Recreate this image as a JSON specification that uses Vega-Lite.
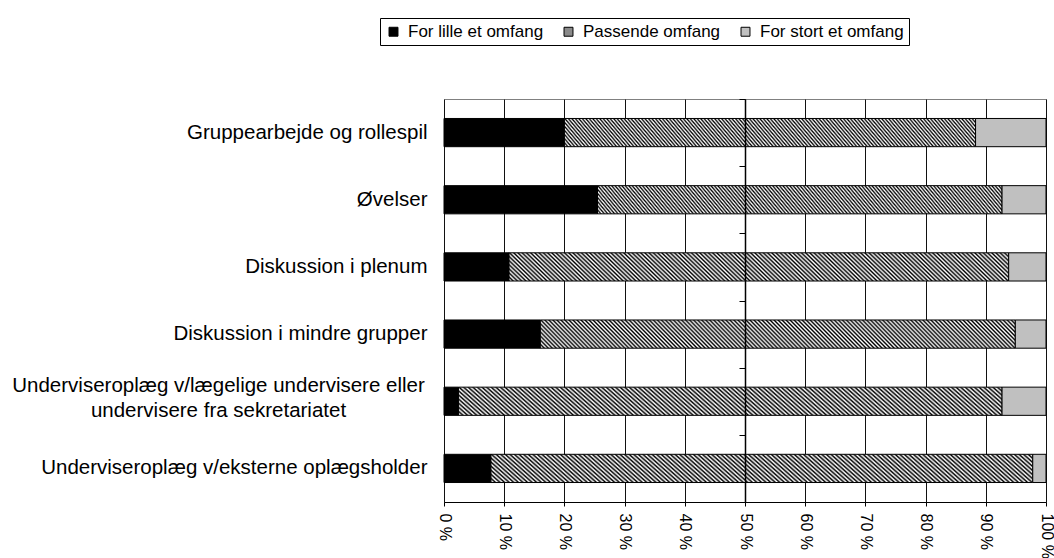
{
  "$schema": "https://vega.github.io/schema/vega-lite/v6.json",
  "autosize": {"type": "none"},
  "width": 602,
  "height": 403,
  "padding": {"left": 444, "top": 99, "right": 8, "bottom": 56},
  "background": "white",
  "config": {
    "font": "Liberation Sans",
    "view": {"stroke": "#808080", "strokeWidth": 1}
  },
  "data": {
    "values": [
      {"cat": "Gruppearbejde og rollespil", "series": "For lille et omfang", "idx": 1, "val": 20.0},
      {"cat": "Gruppearbejde og rollespil", "series": "Passende omfang", "idx": 2, "val": 68.3},
      {"cat": "Gruppearbejde og rollespil", "series": "For stort et omfang", "idx": 3, "val": 11.7},
      {"cat": "Øvelser", "series": "For lille et omfang", "idx": 1, "val": 25.5},
      {"cat": "Øvelser", "series": "Passende omfang", "idx": 2, "val": 67.2},
      {"cat": "Øvelser", "series": "For stort et omfang", "idx": 3, "val": 7.3},
      {"cat": "Diskussion i plenum", "series": "For lille et omfang", "idx": 1, "val": 10.8},
      {"cat": "Diskussion i plenum", "series": "Passende omfang", "idx": 2, "val": 83.0},
      {"cat": "Diskussion i plenum", "series": "For stort et omfang", "idx": 3, "val": 6.2},
      {"cat": "Diskussion i mindre grupper", "series": "For lille et omfang", "idx": 1, "val": 16.0},
      {"cat": "Diskussion i mindre grupper", "series": "Passende omfang", "idx": 2, "val": 78.9},
      {"cat": "Diskussion i mindre grupper", "series": "For stort et omfang", "idx": 3, "val": 5.1},
      {"cat": "Underviseroplæg v/lægelige undervisere eller|undervisere fra sekretariatet", "series": "For lille et omfang", "idx": 1, "val": 2.4},
      {"cat": "Underviseroplæg v/lægelige undervisere eller|undervisere fra sekretariatet", "series": "Passende omfang", "idx": 2, "val": 90.3},
      {"cat": "Underviseroplæg v/lægelige undervisere eller|undervisere fra sekretariatet", "series": "For stort et omfang", "idx": 3, "val": 7.3},
      {"cat": "Underviseroplæg v/eksterne oplægsholder", "series": "For lille et omfang", "idx": 1, "val": 7.8},
      {"cat": "Underviseroplæg v/eksterne oplægsholder", "series": "Passende omfang", "idx": 2, "val": 90.0},
      {"cat": "Underviseroplæg v/eksterne oplægsholder", "series": "For stort et omfang", "idx": 3, "val": 2.2}
    ]
  },
  "layer": [
    {
      "mark": {"type": "bar", "height": {"band": 0.42}, "stroke": "black", "strokeWidth": 1},
      "encoding": {
        "y": {
          "field": "cat", "type": "nominal", "sort": null,
          "scale": {"paddingInner": 0, "paddingOuter": 0},
          "axis": {
            "title": null, "domain": false, "ticks": false, "grid": false,
            "labelFontSize": 20.5, "labelColor": "black", "labelLimit": 0,
            "labelLineHeight": 25,
            "labelExpr": "split(datum.label, '|')",
            "labelAlign": {"condition": {"test": "indexof(datum.label, '|') >= 0", "value": "center"}, "value": "right"},
            "labelPadding": {"condition": {"test": "indexof(datum.label, '|') >= 0", "value": 226}, "value": 17},
            "labelOffset": {"condition": {"test": "indexof(datum.label, '|') >= 0", "value": -15}, "value": 0}
          }
        },
        "x": {
          "field": "val", "type": "quantitative", "stack": "zero",
          "scale": {"domain": [0, 100], "nice": false},
          "axis": {
            "title": null, "values": [0, 10, 20, 30, 40, 50, 60, 70, 80, 90, 100],
            "grid": true, "gridColor": "#111111", "gridWidth": 1,
            "domain": true, "domainColor": "black", "domainWidth": 1,
            "ticks": true, "tickColor": "black", "tickSize": 4,
            "labelAngle": 90, "labelFontSize": 16, "labelColor": "black", "labelPadding": 7,
            "labelExpr": "datum.value + ' %'", "labelFlush": false, "labelOverlap": false
          }
        },
        "order": {"field": "idx"},
        "fill": {
          "condition": {"test": "datum.series === 'Passende omfang'", "value":
              {"gradient": "linear", "x1": 0, "y1": 1, "x2": 1.0547, "y2": 0.9385, "stops": [
                {"offset": 0, "color": "#000"}, {"offset": 0.004, "color": "#fff"}, {"offset": 0.008, "color": "#000"}, {"offset": 0.012, "color": "#fff"}, {"offset": 0.016, "color": "#000"}, {"offset": 0.02, "color": "#fff"}, {"offset": 0.024, "color": "#000"}, {"offset": 0.028, "color": "#fff"}, {"offset": 0.032, "color": "#000"}, {"offset": 0.036, "color": "#fff"},
                {"offset": 0.04, "color": "#000"}, {"offset": 0.044, "color": "#fff"}, {"offset": 0.048, "color": "#000"}, {"offset": 0.052, "color": "#fff"}, {"offset": 0.056, "color": "#000"}, {"offset": 0.06, "color": "#fff"}, {"offset": 0.064, "color": "#000"}, {"offset": 0.068, "color": "#fff"}, {"offset": 0.072, "color": "#000"}, {"offset": 0.076, "color": "#fff"},
                {"offset": 0.08, "color": "#000"}, {"offset": 0.084, "color": "#fff"}, {"offset": 0.088, "color": "#000"}, {"offset": 0.092, "color": "#fff"}, {"offset": 0.096, "color": "#000"}, {"offset": 0.1, "color": "#fff"}, {"offset": 0.104, "color": "#000"}, {"offset": 0.108, "color": "#fff"}, {"offset": 0.112, "color": "#000"}, {"offset": 0.116, "color": "#fff"},
                {"offset": 0.12, "color": "#000"}, {"offset": 0.124, "color": "#fff"}, {"offset": 0.128, "color": "#000"}, {"offset": 0.132, "color": "#fff"}, {"offset": 0.136, "color": "#000"}, {"offset": 0.14, "color": "#fff"}, {"offset": 0.144, "color": "#000"}, {"offset": 0.148, "color": "#fff"}, {"offset": 0.152, "color": "#000"}, {"offset": 0.156, "color": "#fff"},
                {"offset": 0.16, "color": "#000"}, {"offset": 0.164, "color": "#fff"}, {"offset": 0.168, "color": "#000"}, {"offset": 0.172, "color": "#fff"}, {"offset": 0.176, "color": "#000"}, {"offset": 0.18, "color": "#fff"}, {"offset": 0.184, "color": "#000"}, {"offset": 0.188, "color": "#fff"}, {"offset": 0.192, "color": "#000"}, {"offset": 0.196, "color": "#fff"},
                {"offset": 0.2, "color": "#000"}, {"offset": 0.204, "color": "#fff"}, {"offset": 0.208, "color": "#000"}, {"offset": 0.212, "color": "#fff"}, {"offset": 0.216, "color": "#000"}, {"offset": 0.22, "color": "#fff"}, {"offset": 0.224, "color": "#000"}, {"offset": 0.228, "color": "#fff"}, {"offset": 0.232, "color": "#000"}, {"offset": 0.236, "color": "#fff"},
                {"offset": 0.24, "color": "#000"}, {"offset": 0.244, "color": "#fff"}, {"offset": 0.248, "color": "#000"}, {"offset": 0.252, "color": "#fff"}, {"offset": 0.256, "color": "#000"}, {"offset": 0.26, "color": "#fff"}, {"offset": 0.264, "color": "#000"}, {"offset": 0.268, "color": "#fff"}, {"offset": 0.272, "color": "#000"}, {"offset": 0.276, "color": "#fff"},
                {"offset": 0.28, "color": "#000"}, {"offset": 0.284, "color": "#fff"}, {"offset": 0.288, "color": "#000"}, {"offset": 0.292, "color": "#fff"}, {"offset": 0.296, "color": "#000"}, {"offset": 0.3, "color": "#fff"}, {"offset": 0.304, "color": "#000"}, {"offset": 0.308, "color": "#fff"}, {"offset": 0.312, "color": "#000"}, {"offset": 0.316, "color": "#fff"},
                {"offset": 0.32, "color": "#000"}, {"offset": 0.324, "color": "#fff"}, {"offset": 0.328, "color": "#000"}, {"offset": 0.332, "color": "#fff"}, {"offset": 0.336, "color": "#000"}, {"offset": 0.34, "color": "#fff"}, {"offset": 0.344, "color": "#000"}, {"offset": 0.348, "color": "#fff"}, {"offset": 0.352, "color": "#000"}, {"offset": 0.356, "color": "#fff"},
                {"offset": 0.36, "color": "#000"}, {"offset": 0.364, "color": "#fff"}, {"offset": 0.368, "color": "#000"}, {"offset": 0.372, "color": "#fff"}, {"offset": 0.376, "color": "#000"}, {"offset": 0.38, "color": "#fff"}, {"offset": 0.384, "color": "#000"}, {"offset": 0.388, "color": "#fff"}, {"offset": 0.392, "color": "#000"}, {"offset": 0.396, "color": "#fff"},
                {"offset": 0.4, "color": "#000"}, {"offset": 0.404, "color": "#fff"}, {"offset": 0.408, "color": "#000"}, {"offset": 0.412, "color": "#fff"}, {"offset": 0.416, "color": "#000"}, {"offset": 0.42, "color": "#fff"}, {"offset": 0.424, "color": "#000"}, {"offset": 0.428, "color": "#fff"}, {"offset": 0.432, "color": "#000"}, {"offset": 0.436, "color": "#fff"},
                {"offset": 0.44, "color": "#000"}, {"offset": 0.444, "color": "#fff"}, {"offset": 0.448, "color": "#000"}, {"offset": 0.452, "color": "#fff"}, {"offset": 0.456, "color": "#000"}, {"offset": 0.46, "color": "#fff"}, {"offset": 0.464, "color": "#000"}, {"offset": 0.468, "color": "#fff"}, {"offset": 0.472, "color": "#000"}, {"offset": 0.476, "color": "#fff"},
                {"offset": 0.48, "color": "#000"}, {"offset": 0.484, "color": "#fff"}, {"offset": 0.488, "color": "#000"}, {"offset": 0.492, "color": "#fff"}, {"offset": 0.496, "color": "#000"}, {"offset": 0.5, "color": "#fff"}, {"offset": 0.504, "color": "#000"}, {"offset": 0.508, "color": "#fff"}, {"offset": 0.512, "color": "#000"}, {"offset": 0.516, "color": "#fff"},
                {"offset": 0.52, "color": "#000"}, {"offset": 0.524, "color": "#fff"}, {"offset": 0.528, "color": "#000"}, {"offset": 0.532, "color": "#fff"}, {"offset": 0.536, "color": "#000"}, {"offset": 0.54, "color": "#fff"}, {"offset": 0.544, "color": "#000"}, {"offset": 0.548, "color": "#fff"}, {"offset": 0.552, "color": "#000"}, {"offset": 0.556, "color": "#fff"},
                {"offset": 0.56, "color": "#000"}, {"offset": 0.564, "color": "#fff"}, {"offset": 0.568, "color": "#000"}, {"offset": 0.572, "color": "#fff"}, {"offset": 0.576, "color": "#000"}, {"offset": 0.58, "color": "#fff"}, {"offset": 0.584, "color": "#000"}, {"offset": 0.588, "color": "#fff"}, {"offset": 0.592, "color": "#000"}, {"offset": 0.596, "color": "#fff"},
                {"offset": 0.6, "color": "#000"}, {"offset": 0.604, "color": "#fff"}, {"offset": 0.608, "color": "#000"}, {"offset": 0.612, "color": "#fff"}, {"offset": 0.616, "color": "#000"}, {"offset": 0.62, "color": "#fff"}, {"offset": 0.624, "color": "#000"}, {"offset": 0.628, "color": "#fff"}, {"offset": 0.632, "color": "#000"}, {"offset": 0.636, "color": "#fff"},
                {"offset": 0.64, "color": "#000"}, {"offset": 0.644, "color": "#fff"}, {"offset": 0.648, "color": "#000"}, {"offset": 0.652, "color": "#fff"}, {"offset": 0.656, "color": "#000"}, {"offset": 0.66, "color": "#fff"}, {"offset": 0.664, "color": "#000"}, {"offset": 0.668, "color": "#fff"}, {"offset": 0.672, "color": "#000"}, {"offset": 0.676, "color": "#fff"},
                {"offset": 0.68, "color": "#000"}, {"offset": 0.684, "color": "#fff"}, {"offset": 0.688, "color": "#000"}, {"offset": 0.692, "color": "#fff"}, {"offset": 0.696, "color": "#000"}, {"offset": 0.7, "color": "#fff"}, {"offset": 0.704, "color": "#000"}, {"offset": 0.708, "color": "#fff"}, {"offset": 0.712, "color": "#000"}, {"offset": 0.716, "color": "#fff"},
                {"offset": 0.72, "color": "#000"}, {"offset": 0.724, "color": "#fff"}, {"offset": 0.728, "color": "#000"}, {"offset": 0.732, "color": "#fff"}, {"offset": 0.736, "color": "#000"}, {"offset": 0.74, "color": "#fff"}, {"offset": 0.744, "color": "#000"}, {"offset": 0.748, "color": "#fff"}, {"offset": 0.752, "color": "#000"}, {"offset": 0.756, "color": "#fff"},
                {"offset": 0.76, "color": "#000"}, {"offset": 0.764, "color": "#fff"}, {"offset": 0.768, "color": "#000"}, {"offset": 0.772, "color": "#fff"}, {"offset": 0.776, "color": "#000"}, {"offset": 0.78, "color": "#fff"}, {"offset": 0.784, "color": "#000"}, {"offset": 0.788, "color": "#fff"}, {"offset": 0.792, "color": "#000"}, {"offset": 0.796, "color": "#fff"},
                {"offset": 0.8, "color": "#000"}, {"offset": 0.804, "color": "#fff"}, {"offset": 0.808, "color": "#000"}, {"offset": 0.812, "color": "#fff"}, {"offset": 0.816, "color": "#000"}, {"offset": 0.82, "color": "#fff"}, {"offset": 0.824, "color": "#000"}, {"offset": 0.828, "color": "#fff"}, {"offset": 0.832, "color": "#000"}, {"offset": 0.836, "color": "#fff"},
                {"offset": 0.84, "color": "#000"}, {"offset": 0.844, "color": "#fff"}, {"offset": 0.848, "color": "#000"}, {"offset": 0.852, "color": "#fff"}, {"offset": 0.856, "color": "#000"}, {"offset": 0.86, "color": "#fff"}, {"offset": 0.864, "color": "#000"}, {"offset": 0.868, "color": "#fff"}, {"offset": 0.872, "color": "#000"}, {"offset": 0.876, "color": "#fff"},
                {"offset": 0.88, "color": "#000"}, {"offset": 0.884, "color": "#fff"}, {"offset": 0.888, "color": "#000"}, {"offset": 0.892, "color": "#fff"}, {"offset": 0.896, "color": "#000"}, {"offset": 0.9, "color": "#fff"}, {"offset": 0.904, "color": "#000"}, {"offset": 0.908, "color": "#fff"}, {"offset": 0.912, "color": "#000"}, {"offset": 0.916, "color": "#fff"},
                {"offset": 0.92, "color": "#000"}, {"offset": 0.924, "color": "#fff"}, {"offset": 0.928, "color": "#000"}, {"offset": 0.932, "color": "#fff"}, {"offset": 0.936, "color": "#000"}, {"offset": 0.94, "color": "#fff"}, {"offset": 0.944, "color": "#000"}, {"offset": 0.948, "color": "#fff"}, {"offset": 0.952, "color": "#000"}, {"offset": 0.956, "color": "#fff"},
                {"offset": 0.96, "color": "#000"}, {"offset": 0.964, "color": "#fff"}, {"offset": 0.968, "color": "#000"}, {"offset": 0.972, "color": "#fff"}, {"offset": 0.976, "color": "#000"}, {"offset": 0.98, "color": "#fff"}, {"offset": 0.984, "color": "#000"}, {"offset": 0.988, "color": "#fff"}, {"offset": 0.992, "color": "#000"}, {"offset": 0.996, "color": "#fff"},
                {"offset": 1, "color": "#000"}
              ]}
          },
          "field": "series", "type": "nominal",
          "scale": {
            "domain": ["For lille et omfang", "Passende omfang", "For stort et omfang"],
            "range": ["#000000", "#8a8a8a", "#c0c0c0"]
          },
          "legend": {
            "title": null, "orient": "none", "legendX": -64, "legendY": -81,
            "direction": "horizontal", "strokeColor": "black", "fillColor": "white",
            "padding": 5, "cornerRadius": 0,
            "labelFontSize": 17, "labelColor": "black", "labelOffset": 6, "labelLimit": 0,
            "symbolType": "square", "symbolSize": 80, "symbolStrokeColor": "black", "symbolStrokeWidth": 1,
            "columnPadding": 16
          }
        }
      }
    },
    {
      "mark": {"type": "rule", "color": "black", "strokeWidth": 1.5, "opacity": 0},
      "encoding": {
        "x": {"datum": 50},
        "y": {
          "field": "cat", "type": "nominal", "sort": null,
          "axis": {
            "title": null, "orient": "left", "offset": -301, "labels": false, "grid": false,
            "domain": true, "domainColor": "black", "domainWidth": 1.5,
            "ticks": true, "tickBand": "extent", "tickSize": 6, "tickColor": "black", "tickWidth": 1,
            "zindex": 1
          }
        }
      }
    }
  ],
  "resolve": {"axis": {"y": "independent"}}
}
